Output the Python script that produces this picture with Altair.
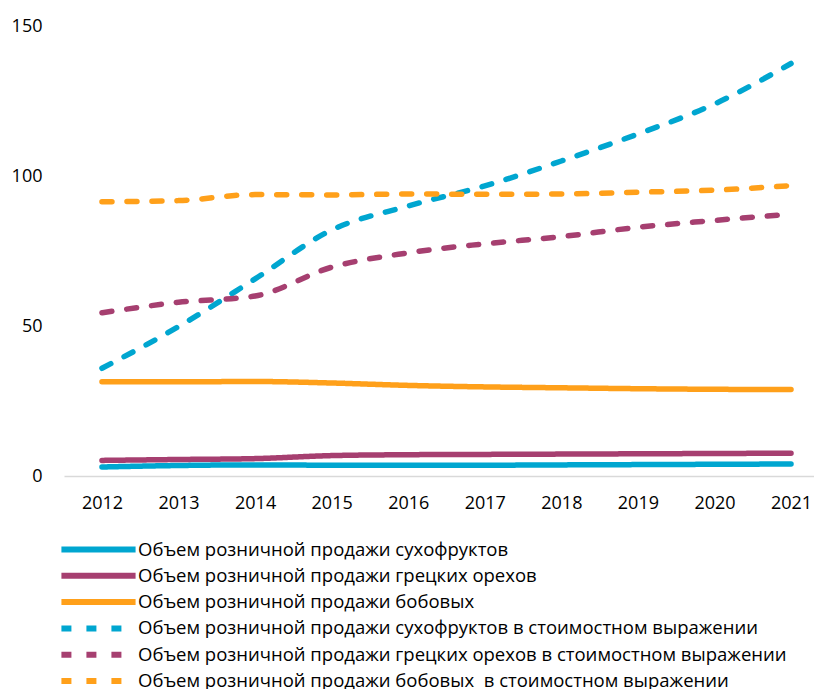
import altair as alt
import pandas as pd

years = [2012, 2013, 2014, 2015, 2016, 2017, 2018, 2019, 2020, 2021]

series_names = [
    "Объем розничной продажи сухофруктов",
    "Объем розничной продажи грецких орехов",
    "Объем розничной продажи бобовых",
    "Объем розничной продажи сухофруктов в стоимостном выражении",
    "Объем розничной продажи грецких орехов в стоимостном выражении",
    "Объем розничной продажи бобовых\u00a0 в стоимостном выражении",
]

dried_fruit_volume = [3.0, 3.5, 3.7, 3.6, 3.6, 3.6, 3.7, 3.8, 3.9, 4.0]
walnut_volume = [5.2, 5.5, 5.8, 6.8, 7.1, 7.2, 7.3, 7.4, 7.5, 7.6]
legume_volume = [31.4, 31.4, 31.5, 31.0, 30.2, 29.7, 29.4, 29.1, 28.9, 28.8]
dried_fruit_value = [35.9, 49.8, 65.7, 82.0, 90.0, 96.7, 105.0, 114.0, 124.0, 137.5]
walnut_value = [54.4, 57.9, 60.0, 69.6, 74.4, 77.4, 79.8, 82.9, 85.2, 87.3]
legume_value = [91.4, 91.8, 93.8, 93.7, 94.0, 93.9, 94.0, 94.6, 95.3, 96.8]

all_values = [dried_fruit_volume, walnut_volume, legume_volume,
              dried_fruit_value, walnut_value, legume_value]

colors = ["#00A6D0", "#A63F70", "#FFA01A", "#00A6D0", "#A63F70", "#FFA01A"]
dashes = [[1, 0], [1, 0], [1, 0], [10, 15], [10, 15], [10, 15]]

rows = []
for i, (name, vals) in enumerate(zip(series_names, all_values)):
    for y, v in zip(years, vals):
        rows.append({"year": y, "value": v, "series": name, "order": i})
df = pd.DataFrame(rows)

FONT = "Open Sans"

legend = alt.Legend(
    orient="none", legendX=24, legendY=513, direction="vertical", title=None,
    symbolType="M-5,0L5,0", symbolSize=220, symbolStrokeWidth=6,
    symbolFillColor="transparent",
    labelFontSize=18.5, labelFont=FONT, labelColor="#000000",
    rowPadding=1.3, labelOffset=29, labelLimit=0, symbolOpacity=1,
)

chart = alt.Chart(df).mark_line(
    strokeWidth=5.5, strokeCap="round", interpolate="monotone"
).encode(
    x=alt.X("year:Q",
            scale=alt.Scale(domain=[2011.504, 2021.30], nice=False, zero=False),
            axis=alt.Axis(values=years, format="d", title=None, ticks=False,
                          grid=False, domainColor="#d9d9d9", domainWidth=1.5,
                          labelFontSize=18, labelFont=FONT, labelColor="#000000",
                          labelPadding=18, labelFlush=False, labelOverlap=False)),
    y=alt.Y("value:Q",
            scale=alt.Scale(domain=[0, 150], nice=False),
            axis=alt.Axis(values=[0, 50, 100, 150], title=None, ticks=False,
                          grid=False, domain=False,
                          labelFontSize=18, labelFont=FONT, labelColor="#000000",
                          labelPadding=22)),
    color=alt.Color("series:N",
                    scale=alt.Scale(domain=series_names, range=colors),
                    sort=series_names, legend=legend),
    strokeDash=alt.StrokeDash("series:N",
                              scale=alt.Scale(domain=series_names, range=dashes),
                              sort=series_names, legend=legend),
    order=alt.Order("year:Q"),
).properties(
    width=750, height=450,
    autosize=alt.AutoSizeParams(type="none"),
    padding={"left": 56, "top": 18, "right": 0, "bottom": 213},
).configure_view(stroke=None)

chart.save("out.html", embed_options={"renderer": "svg", "actions": False})
